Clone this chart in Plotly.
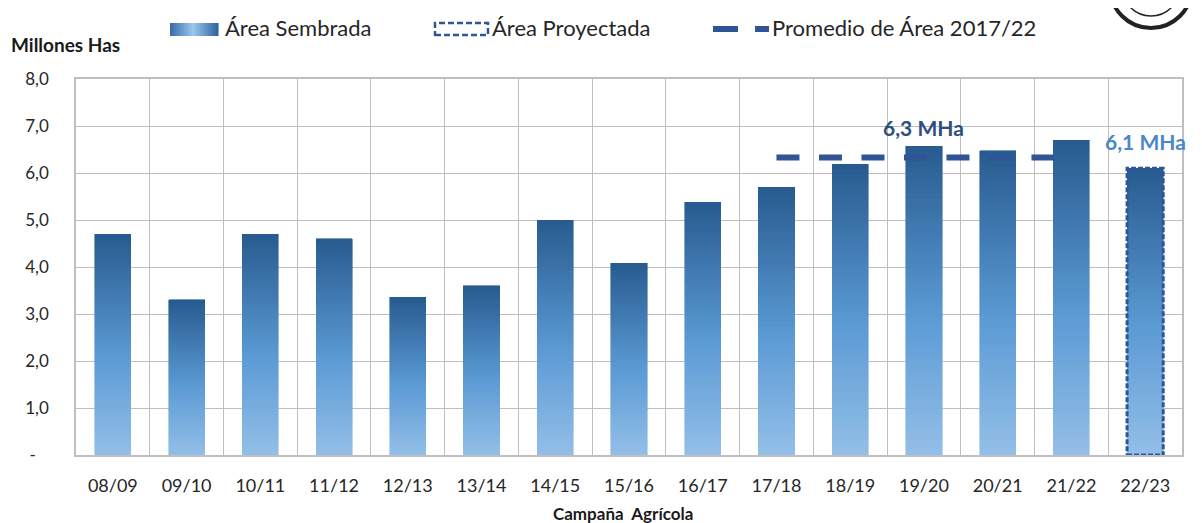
import plotly.graph_objects as go

# ---- data ----
campanas = ["08/09", "09/10", "10/11", "11/12", "12/13", "13/14", "14/15", "15/16",
            "16/17", "17/18", "18/19", "19/20", "20/21", "21/22", "22/23"]
area_sembrada = [4.70, 3.30, 4.70, 4.60, 3.36, 3.60, 5.00, 4.08,
                 5.38, 5.70, 6.19, 6.57, 6.47, 6.70]
area_proyectada = {"22/23": 6.10}
promedio_campanas = ["17/18", "18/19", "19/20", "20/21", "21/22"]
promedio_valor = 6.33
y_ticks = [0, 1, 2, 3, 4, 5, 6, 7, 8]
y_ticktext = ["-\u00a0\u00a0\u00a0", "1,0", "2,0", "3,0", "4,0", "5,0", "6,0", "7,0", "8,0"]

valores = area_sembrada + [area_proyectada["22/23"]]

# ---- layout geometry (window pixels; page body has an 8px margin) ----
OFF = 8
W, H = 1202 - OFF, 523 - OFF
PL, PT, PR, PB = 76, 79, 1182, 455          # plot area in window pixels
L, T = PL - OFF, PT - OFF
R, B = (OFF + W) - PR, (OFF + H) - PB
PW, PH = PR - PL, PB - PT
FONT = "Lato"
TXT = "#262626"


def px(x):
    return (x - PL) / PW


def py(y):
    return (PB - y) / PH


def lerp(c1, c2, t):
    a = [int(c1[i:i + 2], 16) for i in (1, 3, 5)]
    b = [int(c2[i:i + 2], 16) for i in (1, 3, 5)]
    return "#%02x%02x%02x" % tuple(round(a[k] + (b[k] - a[k]) * t) for k in range(3))


def grad(t):
    # t: 0 bottom -> 1 top
    stops = [(0.0, "#93bfe8"), (0.45, "#5b9ad4"), (1.0, "#275b8f")]
    for (t0, c0), (t1, c1) in zip(stops[:-1], stops[1:]):
        if t <= t1:
            return lerp(c0, c1, (t - t0) / (t1 - t0))
    return stops[-1][1]


fig = go.Figure()

# gradient bars: stacked slices of each bar's own height
N = 60
bw = 0.49
for i in range(N):
    fig.add_trace(go.Bar(
        x=campanas, y=[v / N for v in valores],
        marker=dict(color=grad((i + 0.5) / N), line=dict(width=0.6, color=grad((i + 0.5) / N))),
        showlegend=False, hoverinfo="skip", width=bw,
    ))

# dashed outline for projected bar
for cat, val in area_proyectada.items():
    idx = campanas.index(cat)
    fig.add_shape(type="rect", xref="x", yref="y", x0=idx - bw / 2, x1=idx + bw / 2,
                  y0=0, y1=val, line=dict(color="#2f5597", width=3, dash="5px,2px"),
                  fillcolor="rgba(0,0,0,0)", layer="above")

# average line
fig.add_trace(go.Scatter(
    x=promedio_campanas, y=[promedio_valor] * len(promedio_campanas), mode="lines",
    line=dict(color="#2f5597", width=6, dash="23px,19.5px"),
    showlegend=False, hoverinfo="skip",
))

annotations = [
    dict(x="19/20", y=6.97, xref="x", yref="y", text="<b>6,3 MHa</b>", showarrow=False,
         font=dict(family=FONT, size=21, color="#2d4e80")),
    dict(x="22/23", y=6.68, xref="x", yref="y", text="<b>6,1 MHa</b>", showarrow=False,
         font=dict(family=FONT, size=21, color="#4a88c9")),
    dict(x=px(9), y=py(45), xref="paper", yref="paper", xanchor="left", yanchor="middle",
         text="<b>Millones Has</b>", showarrow=False, font=dict(family=FONT, size=19, color="#1a1a1a")),
    dict(x=px(623), y=py(513), xref="paper", yref="paper", xanchor="center", yanchor="middle",
         text="<b>Campaña  Agrícola</b>", showarrow=False, font=dict(family=FONT, size=17, color="#1a1a1a")),
    dict(x=px(223), y=py(28), xref="paper", yref="paper", xanchor="left", yanchor="middle",
         text="Área Sembrada", showarrow=False, font=dict(family=FONT, size=22, color=TXT)),
    dict(x=px(490), y=py(28), xref="paper", yref="paper", xanchor="left", yanchor="middle",
         text="Área Proyectada", showarrow=False, font=dict(family=FONT, size=22, color=TXT)),
    dict(x=px(770), y=py(28), xref="paper", yref="paper", xanchor="left", yanchor="middle",
         text="Promedio de Área 2017/22", showarrow=False, font=dict(family=FONT, size=22, color=TXT)),
]

shapes = []
# legend swatch 1: horizontal gradient, dark edges light centre
n_strip = 25
x0s, x1s = 168, 218
for k in range(n_strip):
    a = x0s + (x1s - x0s) * k / n_strip
    b = x0s + (x1s - x0s) * (k + 1) / n_strip
    t = 1 - abs((k + 0.5) / n_strip - 0.5) * 2
    c = lerp("#2b64a0", "#9cc6ec", t)
    shapes.append(dict(type="rect", xref="paper", yref="paper", x0=px(a), x1=px(b) + 0.0005,
                       y0=py(36), y1=py(23), fillcolor=c, line=dict(width=0), layer="above"))
# legend swatch 2: dashed box
shapes.append(dict(type="rect", xref="paper", yref="paper", x0=px(435), x1=px(488), y0=py(35), y1=py(23),
                   line=dict(color="#2f5597", width=2.5, dash="6px,3px"), fillcolor="white"))
# legend swatch 3: dashed line
shapes.append(dict(type="line", xref="paper", yref="paper", x0=px(713), x1=px(769), y0=py(29), y1=py(29),
                   line=dict(color="#2f5597", width=6, dash="25px,17px")))
# partial logo circle (top-right)
shapes.append(dict(type="circle", xref="paper", yref="paper", x0=px(1110), x1=px(1192), y0=py(28), y1=py(-54),
                   line=dict(color="#222222", width=4), fillcolor="white"))
shapes.append(dict(type="circle", xref="paper", yref="paper", x0=px(1122), x1=px(1180), y0=py(16), y1=py(-42),
                   line=dict(color="#222222", width=1.5), fillcolor="rgba(0,0,0,0)"))

fig.update_layout(
    width=W, height=H,
    margin=dict(l=L, r=R, t=T, b=B),
    paper_bgcolor="white", plot_bgcolor="white",
    barmode="stack", bargap=0.51,
    showlegend=False,
    font=dict(family=FONT, size=17, color=TXT),
    annotations=annotations, shapes=shapes,
    xaxis=dict(
        type="category", tickson="boundaries", showgrid=True, gridcolor="#bfbfbf", gridwidth=1,
        showline=True, linecolor="#bfbfbf", linewidth=1.5, mirror=True,
        ticks="", tickfont=dict(family=FONT, size=18, color=TXT), ticklabelstandoff=14,
        range=[-0.5, len(campanas) - 0.5], fixedrange=True,
    ),
    yaxis=dict(
        range=[0, 8], tickvals=y_ticks, ticktext=y_ticktext, showgrid=True,
        gridcolor="#bfbfbf", gridwidth=1, showline=True, linecolor="#bfbfbf", linewidth=1.5,
        mirror=True, zeroline=False, ticks="", ticklabelstandoff=22,
        tickfont=dict(family=FONT, size=17, color=TXT), fixedrange=True,
    ),
)

fig.write_html("out.html")
